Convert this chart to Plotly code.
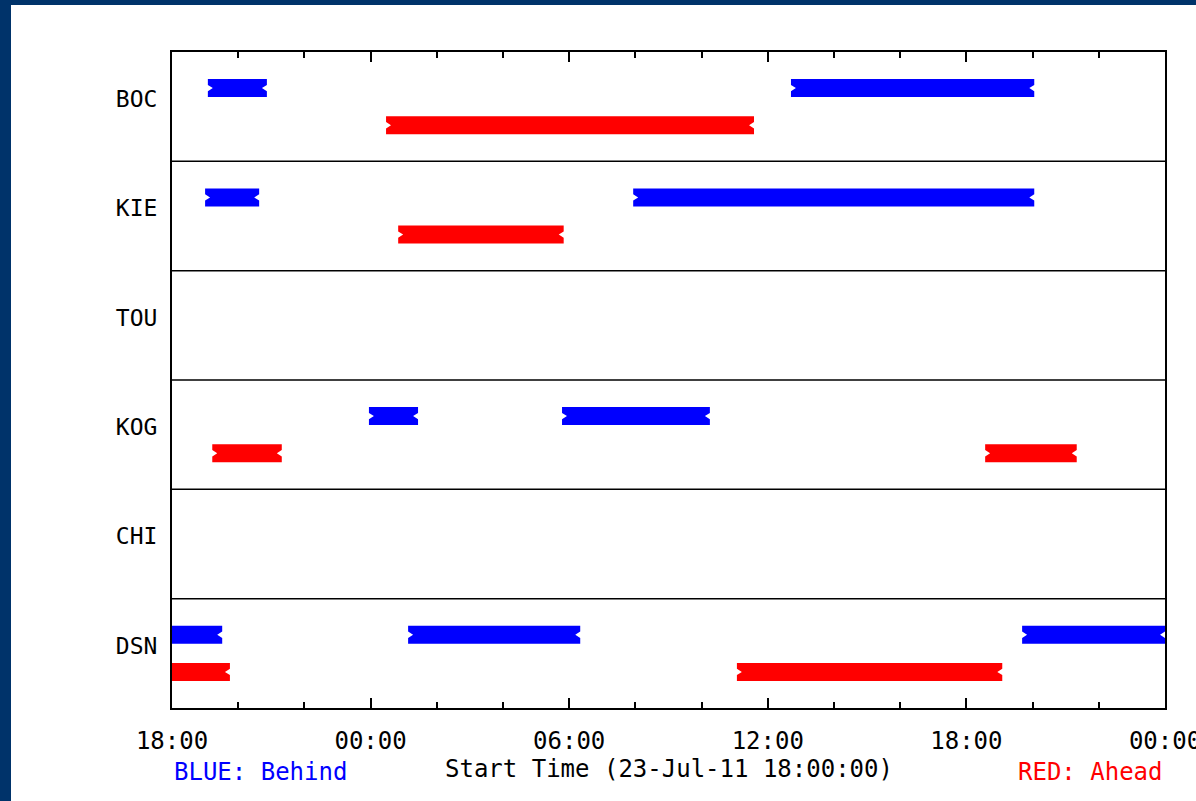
import pandas as pd
import plotly.graph_objects as go

# ---- data ----
stations = ["BOC", "KIE", "TOU", "KOG", "CHI", "DSN"]
# Behind (blue) passes per station: (start, end)
behind = {
    "BOC": [("2011-07-23 19:05", "2011-07-23 20:52"), ("2011-07-24 12:42", "2011-07-24 20:03")],
    "KIE": [("2011-07-23 19:00", "2011-07-23 20:38"), ("2011-07-24 07:56", "2011-07-24 20:03")],
    "TOU": [],
    "KOG": [("2011-07-23 23:57", "2011-07-24 01:26"), ("2011-07-24 05:47", "2011-07-24 10:15")],
    "CHI": [],
    "DSN": [("2011-07-23 16:30", "2011-07-23 19:31"), ("2011-07-24 01:08", "2011-07-24 06:20"),
            ("2011-07-24 19:41", "2011-07-25 00:00")],
}
# Ahead (red) passes per station
ahead = {
    "BOC": [("2011-07-24 00:28", "2011-07-24 11:35")],
    "KIE": [("2011-07-24 00:50", "2011-07-24 05:50")],
    "TOU": [],
    "KOG": [("2011-07-23 19:13", "2011-07-23 21:19"), ("2011-07-24 18:34", "2011-07-24 21:20")],
    "CHI": [],
    "DSN": [("2011-07-23 16:30", "2011-07-23 19:45"), ("2011-07-24 11:04", "2011-07-24 19:05")],
}
t_start = "2011-07-23 18:00"
t_end = "2011-07-25 00:00"
title_text = "Start Time (23-Jul-11 18:00:00)"

# ---- style ----
NAVY = "#00336a"
BLUE = "#0000ff"
RED = "#ff0000"
FONT = "DejaVu Sans Mono"
n = len(stations)
half = 0.082          # half bar height (row units)
notch = pd.Timedelta(minutes=9)


def polys(passes, offset):
    xs, ys = [], []
    for i, st in enumerate(stations):
        yc = n - i - offset
        top, bot = yc + half, yc - half
        for s, e in passes[st]:
            s = pd.Timestamp(s)
            e = pd.Timestamp(e)
            pts = [(s, top), (e, top), (e, yc + half * 0.35), (e - notch, yc),
                   (e, yc - half * 0.35), (e, bot), (s, bot), (s, yc - half * 0.35),
                   (s + notch, yc), (s, yc + half * 0.35), (s, top)]
            xs += [p[0] for p in pts] + [None]
            ys += [p[1] for p in pts] + [None]
    return xs, ys


fig = go.Figure()
bx, by = polys(behind, 0.33)
rx, ry = polys(ahead, 0.67)
fig.add_trace(go.Scatter(x=bx, y=by, fill="toself", mode="lines", line=dict(width=0),
                         fillcolor=BLUE, hoverinfo="skip", showlegend=False))
fig.add_trace(go.Scatter(x=rx, y=ry, fill="toself", mode="lines", line=dict(width=0),
                         fillcolor=RED, hoverinfo="skip", showlegend=False))

# row separators
for k in range(1, n):
    fig.add_shape(type="line", xref="x domain", yref="y", x0=0, x1=1, y0=k, y1=k,
                  line=dict(color="black", width=1.5))

# white page with navy frame
W, H = 1196, 801
L, R, T, B = 172, 31, 52, 93
pw, ph = W - L - R, H - T - B
fig.add_shape(type="rect", xref="paper", yref="paper", layer="below",
              x0=(11 - L) / pw, x1=(W + 20 - L) / pw,
              y0=-(B + 20) / ph, y1=(H - B - 5) / ph,
              fillcolor="white", line=dict(width=0))

fig.update_layout(
    width=W, height=H,
    margin=dict(l=L, r=R, t=T, b=B, autoexpand=False),
    paper_bgcolor=NAVY, plot_bgcolor="white",
    font=dict(family=FONT, size=24, color="black"),
    showlegend=False,
    xaxis=dict(
        type="date", range=[t_start, t_end], automargin=False,
        tick0=t_start, dtick=6 * 3600 * 1000, tickformat="%H:%M",
        ticks="inside", ticklen=10, tickwidth=1.5, tickcolor="black",
        minor=dict(ticks="inside", ticklen=6, dtick=2 * 3600 * 1000, tickcolor="black", tickwidth=1.5),
        showline=True, linecolor="black", linewidth=2, mirror="ticks",
        showgrid=False, zeroline=False,
        ticklabelstandoff=10, ticklabeloverflow="allow",
        tickfont=dict(family=FONT, size=24, color="black"),
    ),
    yaxis=dict(
        range=[0, n], tickvals=[n - i - 0.43 for i in range(n)], ticktext=stations,
        ticks="outside", ticklen=8, tickcolor="rgba(0,0,0,0)", automargin=False,
        showline=True, linecolor="black", linewidth=2, mirror=True,
        showgrid=False, zeroline=False, fixedrange=True,
        tickfont=dict(family=FONT, size=23, color="black"),
    ),
)

fig.add_annotation(text=title_text, xref="paper", yref="paper", x=0.5, y=-61 / ph,
                   xanchor="center", yanchor="middle", showarrow=False,
                   font=dict(family=FONT, size=24, color="black"))
fig.add_annotation(text="BLUE: Behind", xref="paper", yref="paper", x=0, y=-64 / ph,
                   xanchor="left", yanchor="middle", showarrow=False,
                   font=dict(family=FONT, size=24, color=BLUE))
fig.add_annotation(text="RED: Ahead", xref="paper", yref="paper", x=1, y=-64 / ph,
                   xanchor="right", yanchor="middle", showarrow=False,
                   font=dict(family=FONT, size=24, color=RED))

fig.write_html("out.html")
